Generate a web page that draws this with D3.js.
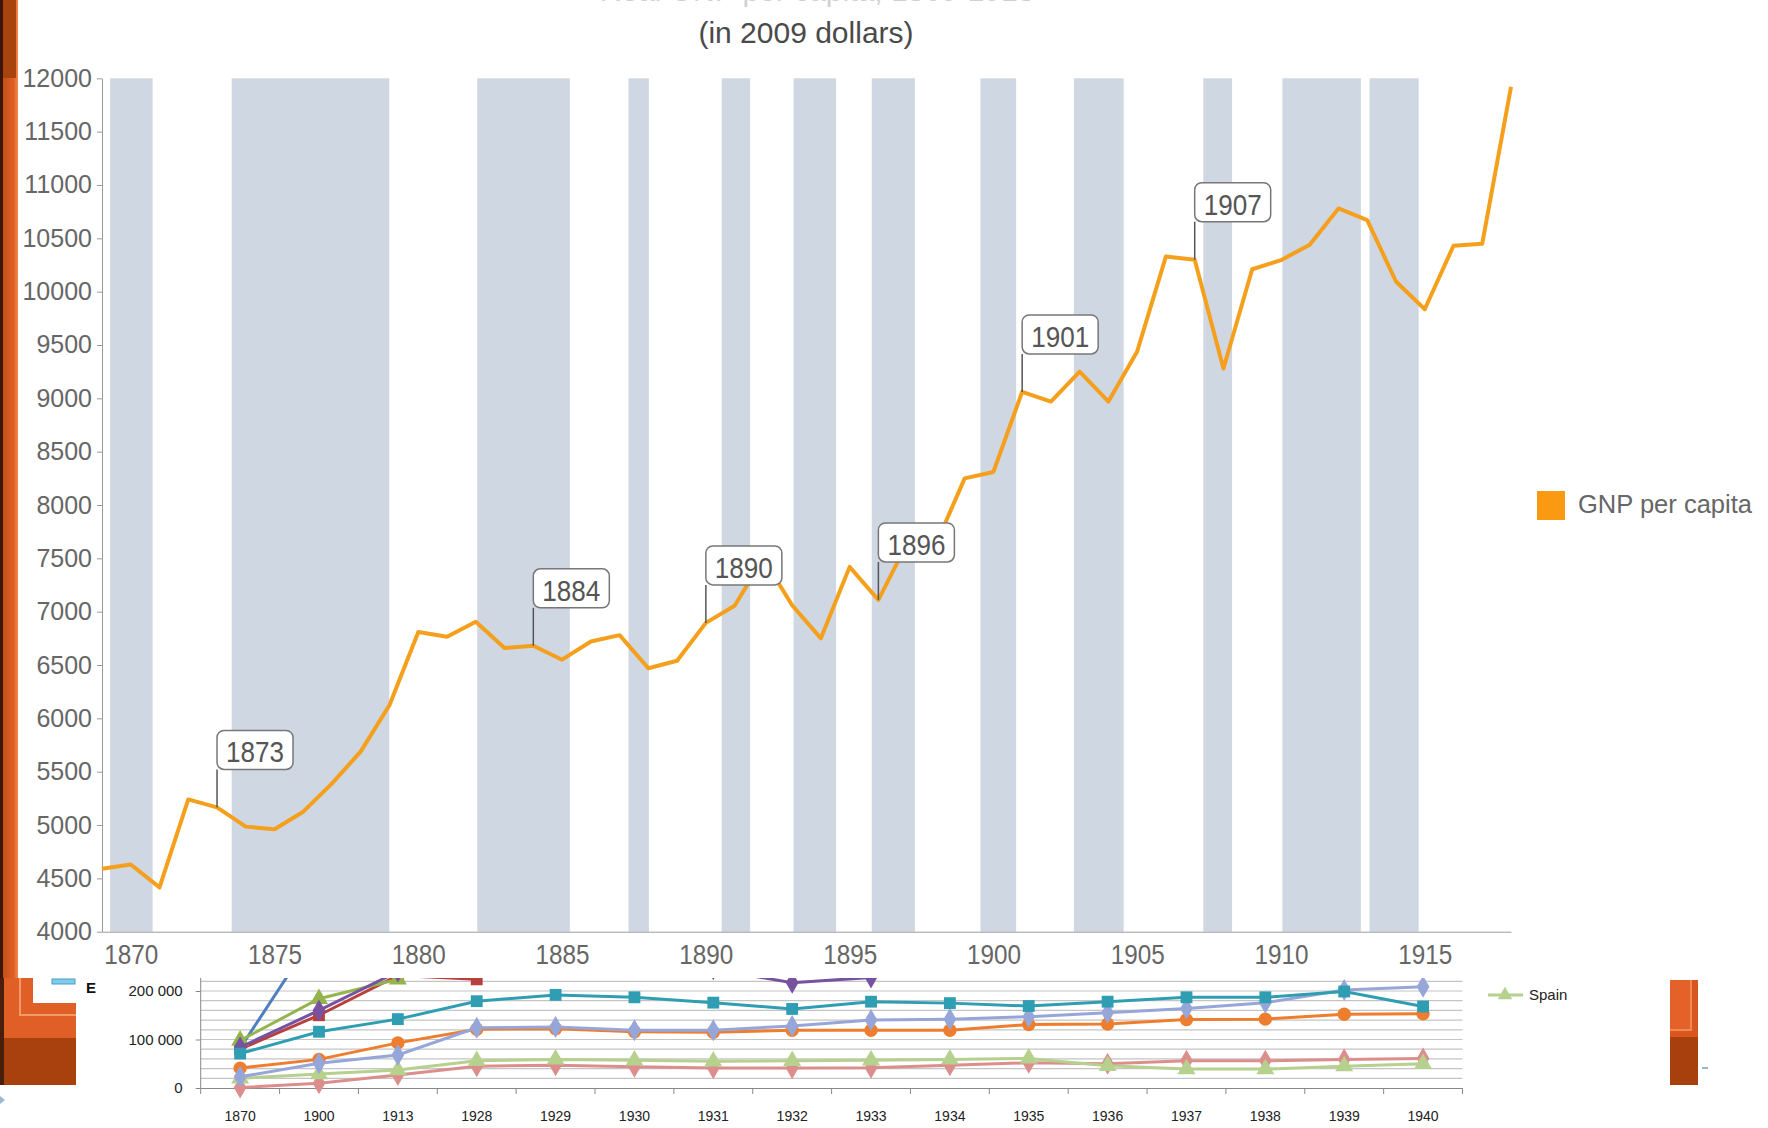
<!DOCTYPE html>
<html>
<head>
<meta charset="utf-8">
<script src="https://d3js.org/d3.v7.min.js"></script>
<style>
  body { margin: 0; background: #fff; }
  svg { display: block; font-family: "Liberation Sans", Arial, sans-serif; }
</style>
</head>
<body>
<div id="chart"></div>
<script>
// ---- main chart data: GNP per capita (2009 dollars) ----
const gnpYears = [1869, 1870, 1871, 1872, 1873, 1874, 1875, 1876, 1877, 1878,
    1879, 1880, 1881, 1882, 1883, 1884, 1885, 1886, 1887, 1888,
    1889, 1890, 1891, 1892, 1893, 1894, 1895, 1896, 1897, 1898,
    1899, 1900, 1901, 1902, 1903, 1904, 1905, 1906, 1907, 1908,
    1909, 1910, 1911, 1912, 1913, 1914, 1915, 1916, 1917, 1918];
const gnpValues = [4590, 4630, 4415, 5240, 5165, 4985, 4960, 5125, 5390, 5690,
    6125, 6810, 6765, 6905, 6660, 6680, 6550, 6720, 6780, 6470,
    6540, 6895, 7055, 7500, 7060, 6750, 7420, 7110, 7640, 7630,
    8250, 8310, 9060, 8970, 9250, 8970, 9440, 10330, 10300, 9280,
    10210, 10295, 10440, 10780, 10670, 10095, 9835, 10430, 10450, 11920];
const calloutYears = [1873, 1884, 1890, 1896, 1901, 1907];
// shaded periods (recessions), in decimal years
const recessionStart = [1869.28, 1873.51, 1882.05, 1887.31, 1890.55, 1893.05, 1895.77, 1899.55, 1902.8, 1907.3, 1910.05, 1913.08];
const recessionEnd = [1870.76, 1878.99, 1885.27, 1888.02, 1891.54, 1894.53, 1897.27, 1900.79, 1904.53, 1908.3, 1912.78, 1914.79];
const gnpTicksY = [4000, 4500, 5000, 5500, 6000, 6500, 7000, 7500, 8000, 8500, 9000, 9500, 10000, 10500, 11000, 11500, 12000];
const gnpTicksX = [1870, 1875, 1880, 1885, 1890, 1895, 1900, 1905, 1910, 1915];

// ---- second (partly hidden) chart at the bottom ----
const bottomCategories = ['1870', '1900', '1913', '1928', '1929', '1930', '1931', '1932',
    '1933', '1934', '1935', '1936', '1937', '1938', '1939', '1940'];
const blueValues = [82000, 330000, null, null, null, null, null, null, null, null, null, null, null, null, null, null];
const redValues = [80000, 150000, 232000, 224000, null, null, null, null, null, null, null, null, null, null, null, null];
const oliveValues = [98000, 184000, 224000, null, null, null, null, null, null, null, null, null, null, null, null, null];
const purpleValues = [84000, 160000, 240000, null, null, null, 245000, 217000, 228000, null, null, null, null, null, null, null];
const tealValues = [71000, 116000, 142000, 179000, 192000, 187000, 176000, 163000, 178000, 175000, 169000, 178000, 187000, 187000, 199000, 168000];
const orangeValues = [41000, 59000, 93000, 121000, 122000, 116000, 115000, 119000, 119000, 119000, 131000, 132000, 141000, 142000, 152000, 153000];
const lavenderValues = [23000, 51000, 68000, 124000, 126000, 119000, 119000, 128000, 140000, 142000, 147000, 155000, 164000, 176000, 202000, 209000];
const pinkValues = [1000, 10000, 27000, 45000, 47000, 44000, 41000, 41000, 42000, 47000, 52000, 50000, 56000, 56000, 59000, 61000];
const spainValues = [20000, 29000, 37000, 56000, 59000, 57000, 55000, 56000, 57000, 59000, 61000, 46000, 39000, 39000, 45000, 50000];
const bottomTicksY = [0, 100000, 200000];

document.addEventListener('DOMContentLoaded', function () {
    const svg = d3.select('#chart').append('svg').attr('width', 1768).attr('height', 1128);
    svg.append('rect').attr('width', 1768).attr('height', 1128).attr('fill', '#fff');
    drawBottomChart(svg);
    drawDecorations(svg);
    drawMainChart(svg);
});

function drawMainChart(svg) {
    // white sheet of the main chart, laid over the lower chart
    svg.append('rect').attr('x', 18).attr('y', 0).attr('width', 1750).attr('height', 978).attr('fill', '#fff');

    const x = d3.scaleLinear().domain([1869, 1918]).range([102, 1511]);
    const y = d3.scaleLinear().domain([4000, 12000]).range([931.7, 78.3]);

    // first title line is cropped at the top of the picture, only its bottom shows
    svg.append('text').attr('x', 817).attr('y', 1).attr('text-anchor', 'middle')
        .attr('font-size', 30).attr('fill', '#d0d0d0').text('Real GNP per capita, 1869-1918');
    svg.append('text').attr('x', 806).attr('y', 43).attr('text-anchor', 'middle')
        .attr('font-size', 30).attr('fill', '#4a4a4a').text('(in 2009 dollars)');

    // shaded bands
    svg.append('g').selectAll('rect')
        .data(recessionStart)
        .enter()
        .append('rect')
        .attr('x', d => x(d))
        .attr('y', y(12000))
        .attr('width', (d, i) => x(recessionEnd[i]) - x(d))
        .attr('height', y(4000) - y(12000))
        .attr('fill', '#cfd7e3');

    // axes
    const yAxis = svg.append('g').attr('transform', 'translate(102,0)')
        .call(d3.axisLeft(y).tickValues(gnpTicksY).tickSize(5).tickSizeOuter(0).tickPadding(5).tickFormat(d3.format('d')));
    yAxis.selectAll('text').attr('font-size', 25).attr('fill', '#666').attr('font-family', '"Liberation Sans", Arial');
    yAxis.selectAll('line, path').attr('stroke', '#9a9a9a');

    const xAxis = svg.append('g').attr('transform', 'translate(0,931.7)')
        .call(d3.axisBottom(x).tickValues(gnpTicksX).tickSize(0).tickSizeOuter(0).tickPadding(12).tickFormat(d3.format('d')));
    xAxis.selectAll('text').attr('font-size', 28).attr('fill', '#666').attr('font-family', '"Liberation Sans", Arial')
        .attr('textLength', 54).attr('lengthAdjust', 'spacingAndGlyphs');
    xAxis.selectAll('path').attr('stroke', '#9a9a9a');

    // GNP line
    const line = d3.line()
        .x((d, i) => x(gnpYears[i]))
        .y(d => y(d));
    svg.append('path')
        .datum(gnpValues)
        .attr('d', line)
        .attr('fill', 'none')
        .attr('stroke', '#f5a01c')
        .attr('stroke-width', 4)
        .attr('stroke-linejoin', 'round');

    // year callouts
    const callouts = svg.append('g').selectAll('g')
        .data(calloutYears)
        .enter()
        .append('g')
        .attr('transform', d => `translate(${x(d)},${y(gnpValues[gnpYears.indexOf(d)])})`);
    callouts.append('line')
        .attr('x1', 0).attr('y1', 0).attr('x2', 0).attr('y2', -38)
        .attr('stroke', '#555').attr('stroke-width', 1.5);
    callouts.append('rect')
        .attr('x', 0).attr('y', -77).attr('width', 76).attr('height', 39).attr('rx', 7)
        .attr('fill', '#fff').attr('stroke', '#777').attr('stroke-width', 1.5);
    callouts.append('text')
        .attr('x', 9).attr('y', -45)
        .attr('font-size', 30).attr('fill', '#555')
        .attr('textLength', 58).attr('lengthAdjust', 'spacingAndGlyphs')
        .text(d => d);

    // legend
    svg.append('rect').attr('x', 1537).attr('y', 491).attr('width', 28).attr('height', 29).attr('fill', '#f99a12');
    svg.append('text').attr('x', 1578).attr('y', 513).attr('font-size', 26).attr('fill', '#666')
        .attr('textLength', 174).attr('lengthAdjust', 'spacingAndGlyphs').text('GNP per capita');

    // orange slide edge at the left
    const grad = svg.append('defs').append('linearGradient').attr('id', 'edge').attr('x1', 0).attr('x2', 1);
    grad.append('stop').attr('offset', 0).attr('stop-color', '#4a1e0c');
    grad.append('stop').attr('offset', 0.18).attr('stop-color', '#c64f18');
    grad.append('stop').attr('offset', 0.75).attr('stop-color', '#de5f24');
    grad.append('stop').attr('offset', 1).attr('stop-color', '#f38a4e');
    svg.append('rect').attr('x', 0).attr('y', 0).attr('width', 18).attr('height', 978).attr('fill', 'url(#edge)');
    svg.append('rect').attr('x', 3).attr('y', 0).attr('width', 13).attr('height', 78).attr('fill', '#a6430f');
    svg.append('rect').attr('x', 0).attr('y', 0).attr('width', 3).attr('height', 978).attr('fill', '#3c1709');
}

function drawBottomChart(svg) {
    const x = d3.scaleBand().domain(bottomCategories).range([200.7, 1462.5]);
    const y = d3.scaleLinear().domain([0, 200000]).range([1088, 991]);

    svg.append('defs').append('clipPath').attr('id', 'lowclip')
        .append('rect').attr('x', 0).attr('y', 978).attr('width', 1768).attr('height', 150);
    const g = svg.append('g').attr('clip-path', 'url(#lowclip)');

    // gridlines every 20 000
    g.append('g').selectAll('line')
        .data(d3.range(20000, 300001, 20000))
        .enter()
        .append('line')
        .attr('x1', 200.7).attr('x2', 1462.5)
        .attr('y1', d => y(d)).attr('y2', d => y(d))
        .attr('stroke', '#c4c4c4').attr('stroke-width', 1.2);

    const yAxis = g.append('g').attr('transform', 'translate(200.7,0)')
        .call(d3.axisLeft(y).tickValues(bottomTicksY).tickSize(5).tickSizeOuter(0).tickPadding(13)
            .tickFormat(d => d3.format(',')(d).replace(/,/g, ' ')));
    yAxis.select('path').attr('d', `M0,${y(0)}V${y(300000)}`);
    yAxis.selectAll('line, path').attr('stroke', '#888');
    yAxis.selectAll('text').attr('font-size', 15).attr('fill', '#222');

    const xAxis = g.append('g').attr('transform', 'translate(0,1088)')
        .call(d3.axisBottom(x).tickSize(0).tickSizeOuter(0).tickPadding(23));
    xAxis.selectAll('path').attr('stroke', '#888');
    xAxis.selectAll('text').attr('font-size', 14).attr('fill', '#222');
    // Excel style ticks between categories
    g.append('g').selectAll('line')
        .data(bottomCategories.map(c => x(c)).concat([x.range()[1]]))
        .enter()
        .append('line')
        .attr('x1', d => d).attr('x2', d => d).attr('y1', 1088).attr('y2', 1094)
        .attr('stroke', '#888');

    const series = [
        { values: blueValues, color: '#4f7fc0', marker: d3.symbolDiamond },
        { values: redValues, color: '#b8403c', marker: d3.symbolSquare },
        { values: oliveValues, color: '#93b54c', marker: d3.symbolTriangle },
        { values: purpleValues, color: '#7652a0', marker: d3.symbolDiamond },
        { values: pinkValues, color: '#dc8e8c', marker: d3.symbolDiamond },
        { values: spainValues, color: '#b6d08e', marker: d3.symbolTriangle },
        { values: orangeValues, color: '#ef7d2e', marker: d3.symbolCircle },
        { values: lavenderValues, color: '#97a6d8', marker: d3.symbolDiamond },
        { values: tealValues, color: '#2f9db2', marker: d3.symbolSquare }
    ];
    const cx = c => x(c) + x.bandwidth() / 2;
    const line = d3.line()
        .defined(d => d !== null)
        .x((d, i) => cx(bottomCategories[i]))
        .y(d => y(d));

    series.forEach(s => {
        g.append('path').datum(s.values).attr('d', line)
            .attr('fill', 'none').attr('stroke', s.color).attr('stroke-width', 3);
        g.append('g').selectAll('path')
            .data(s.values.map((v, i) => ({ v: v, c: bottomCategories[i] })).filter(d => d.v !== null))
            .enter()
            .append('path')
            .attr('d', d3.symbol().type(s.marker).size(140))
            .attr('transform', d => `translate(${cx(d.c)},${y(d.v)})`)
            .attr('fill', s.color);
    });

    // legend pieces that peek out
    svg.append('line').attr('x1', 1488).attr('x2', 1523).attr('y1', 995).attr('y2', 995)
        .attr('stroke', '#b6d08e').attr('stroke-width', 3);
    svg.append('path').attr('d', d3.symbol().type(d3.symbolTriangle).size(90))
        .attr('transform', 'translate(1505,995)').attr('fill', '#b6d08e');
    svg.append('text').attr('x', 1529).attr('y', 1000).attr('font-size', 15).attr('fill', '#222').text('Spain');
}

function drawDecorations(svg) {
    // slide thumbnail, bottom left
    svg.append('rect').attr('x', 0).attr('y', 978).attr('width', 76).attr('height', 107).attr('fill', '#a9410f');
    svg.append('rect').attr('x', 4).attr('y', 978).attr('width', 72).attr('height', 60).attr('fill', '#df5f27');
    svg.append('path').attr('d', 'M20,978V1015H76').attr('fill', 'none').attr('stroke', '#f29a6a').attr('stroke-width', 2);
    svg.append('rect').attr('x', 0).attr('y', 978).attr('width', 4).attr('height', 107).attr('fill', '#4a1e0c');
    svg.append('rect').attr('x', 33).attr('y', 978).attr('width', 43).attr('height', 25).attr('fill', '#fff');
    svg.append('rect').attr('x', 52).attr('y', 979).attr('width', 23).attr('height', 5).attr('fill', '#7fcbe9').attr('stroke', '#4b9cc8');
    svg.append('text').attr('x', 86).attr('y', 993).attr('font-size', 15).attr('font-weight', 'bold').attr('fill', '#111').text('E');

    // slide thumbnail, bottom right
    svg.append('rect').attr('x', 1670).attr('y', 980).attr('width', 28).attr('height', 105).attr('fill', '#a8400d');
    svg.append('rect').attr('x', 1670).attr('y', 980).attr('width', 28).attr('height', 57).attr('fill', '#d9561f');
    svg.append('path').attr('d', 'M1691,980V1030H1670').attr('fill', 'none').attr('stroke', '#f08a55').attr('stroke-width', 2);
    svg.append('rect').attr('x', 1670).attr('y', 980).attr('width', 20).attr('height', 49).attr('fill', '#e4622a');

    // small slide markers
    svg.append('rect').attr('x', 1702).attr('y', 1067).attr('width', 6).attr('height', 2).attr('fill', '#9ab8d0');
    svg.append('path').attr('d', 'M0,1096L5,1100L0,1104Z').attr('fill', '#9ab8d0');
}
</script>
</body>
</html>
